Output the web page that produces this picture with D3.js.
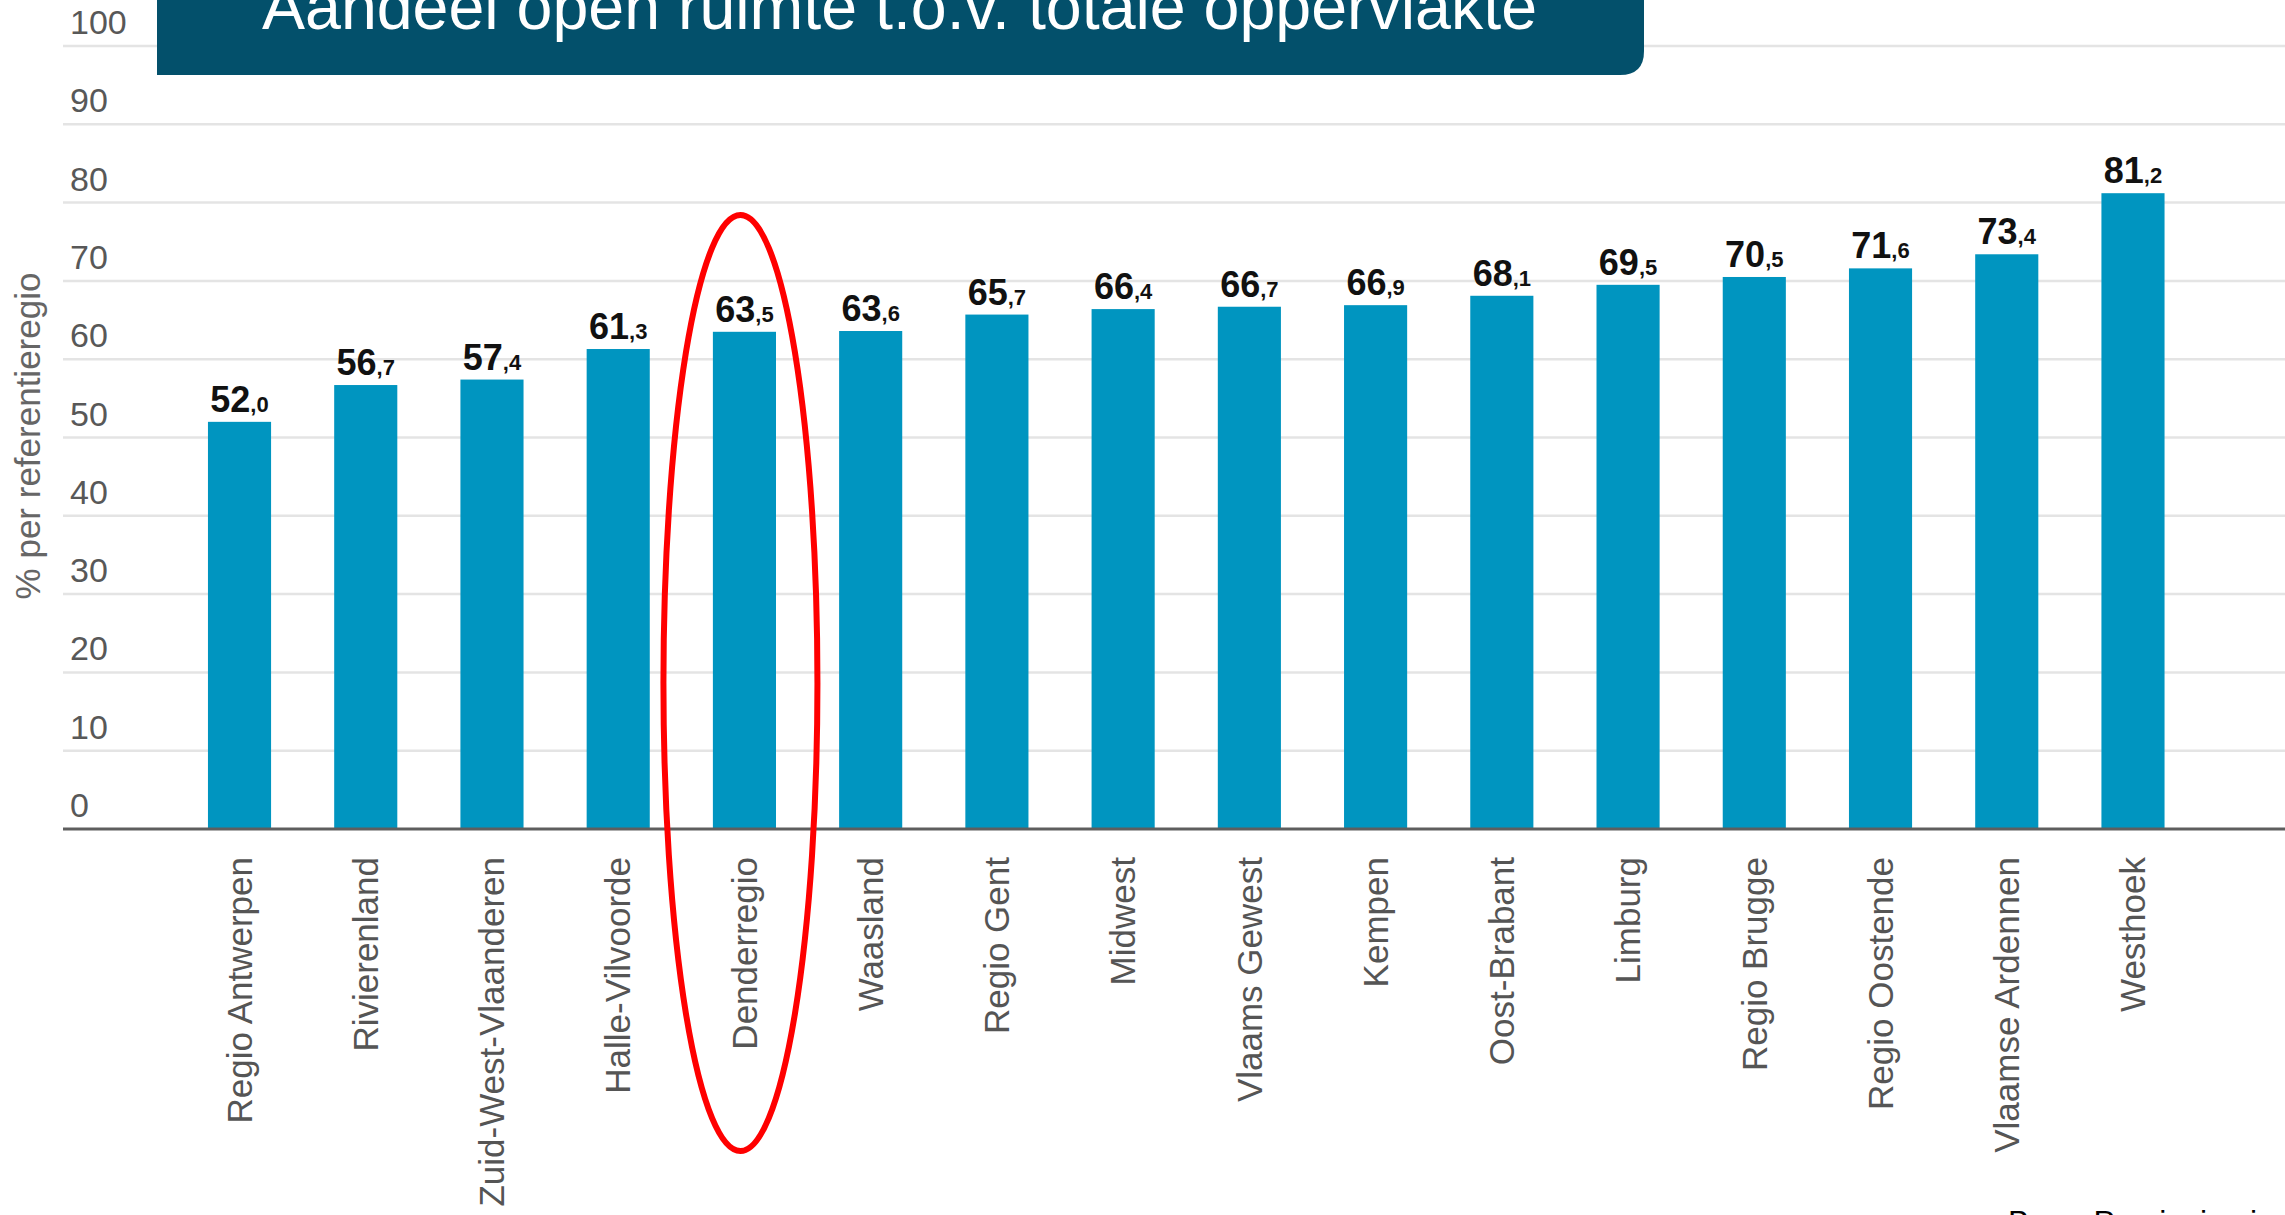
<!DOCTYPE html>
<html>
<head>
<meta charset="utf-8">
<script src="https://cdn.jsdelivr.net/npm/d3@7/dist/d3.min.js"></script>
<style>
  html, body { margin: 0; padding: 0; background: #fff; overflow: hidden; }
  svg { display: block; }
</style>
</head>
<body>
<svg id="chart" width="2285" height="1215"></svg>
<script>
// Share of open space per reference region (%)
const categories = [
  "Regio Antwerpen", "Rivierenland", "Zuid-West-Vlaanderen", "Halle-Vilvoorde",
  "Denderregio", "Waasland", "Regio Gent", "Midwest", "Vlaams Gewest", "Kempen",
  "Oost-Brabant", "Limburg", "Regio Brugge", "Regio Oostende", "Vlaamse Ardennen", "Westhoek"
];
const values = [52.0, 56.7, 57.4, 61.3, 63.5, 63.6, 65.7, 66.4, 66.7, 66.9, 68.1, 69.5, 70.5, 71.6, 73.4, 81.2];
const yTicks = [0, 10, 20, 30, 40, 50, 60, 70, 80, 90, 100];
const highlighted = "Denderregio";

const titleText = "Aandeel open ruimte t.o.v. totale oppervlakte";
const yTitle = "% per referentieregio";
const sourceText = "Bron: Provincies in Cijfers";

const W = 2285, H = 1215;
const svg = d3.select("#chart");

const x = d3.scaleBand()
  .domain(categories)
  .range([176.4, 2196.1])
  .paddingInner(0.5)
  .paddingOuter(0.25);

const y = d3.scaleLinear().domain([0, 100]).range([829, 46]);

const font = "'Liberation Sans', Arial, sans-serif";

// horizontal gridlines
svg.append("g").selectAll("line")
  .data(yTicks.filter(t => t > 0))
  .join("line")
  .attr("x1", 63).attr("x2", W)
  .attr("y1", d => y(d)).attr("y2", d => y(d))
  .attr("stroke", "#e4e4e4").attr("stroke-width", 2.5);

// tick labels sit just above their gridline
svg.append("g").selectAll("text")
  .data(yTicks)
  .join("text")
  .attr("x", 70)
  .attr("y", d => y(d) - 12)
  .attr("font-family", font)
  .attr("font-size", 34)
  .attr("fill", "#585858")
  .text(d => d);

// bars
svg.append("g").selectAll("rect")
  .data(categories)
  .join("rect")
  .attr("x", d => x(d))
  .attr("width", x.bandwidth())
  .attr("y", (d, i) => y(values[i]))
  .attr("height", (d, i) => y(0) - y(values[i]))
  .attr("fill", "#0095c0");

// baseline
svg.append("line")
  .attr("x1", 63).attr("x2", W)
  .attr("y1", y(0)).attr("y2", y(0))
  .attr("stroke", "#5e5e5e").attr("stroke-width", 3);

// value labels: large integer part, small decimal part
const vl = svg.append("g").selectAll("text")
  .data(categories)
  .join("text")
  .attr("x", d => x(d) + x.bandwidth() / 2)
  .attr("y", (d, i) => y(values[i]) - 10)
  .attr("text-anchor", "middle")
  .attr("font-family", font)
  .attr("font-weight", "bold")
  .attr("fill", "#111");
vl.append("tspan")
  .attr("font-size", 36)
  .text((d, i) => values[i].toFixed(1).split(".")[0]);
vl.append("tspan")
  .attr("font-size", 22)
  .text((d, i) => "," + values[i].toFixed(1).split(".")[1]);

// category labels, rotated
svg.append("g").selectAll("text")
  .data(categories)
  .join("text")
  .attr("transform", d => `translate(${x(d) + x.bandwidth() / 2},857) rotate(-90)`)
  .attr("text-anchor", "end")
  .attr("dy", "0.35em")
  .attr("font-family", font)
  .attr("font-size", 35)
  .attr("fill", "#555")
  .text(d => d);

// y-axis title
svg.append("text")
  .attr("transform", "translate(40,436) rotate(-90)")
  .attr("text-anchor", "middle")
  .attr("font-family", font)
  .attr("font-size", 35)
  .attr("fill", "#666")
  .text(yTitle);

// title banner with rounded bottom-right corner
const bx0 = 157, bx1 = 1644, by1 = 75, r = 24;
svg.append("path")
  .attr("d", `M${bx0},-10 L${bx1},-10 L${bx1},${by1 - r} Q${bx1},${by1} ${bx1 - r},${by1} L${bx0},${by1} Z`)
  .attr("fill", "#03506b");
svg.append("text")
  .attr("x", (262 + 1537) / 2)
  .attr("y", 29)
  .attr("text-anchor", "middle")
  .attr("font-family", font)
  .attr("font-size", 64)
  .attr("fill", "#fff")
  .attr("textLength", 1275)
  .attr("lengthAdjust", "spacingAndGlyphs")
  .text(titleText);

// source note
svg.append("text")
  .attr("x", 2008)
  .attr("y", 1233)
  .attr("font-family", font)
  .attr("font-size", 32)
  .attr("fill", "#000")
  .text(sourceText);

// red ellipse around the highlighted region
const hx = x(highlighted) + x.bandwidth() / 2;
svg.append("ellipse")
  .attr("cx", hx - 4)
  .attr("cy", 683)
  .attr("rx", 77)
  .attr("ry", 468)
  .attr("fill", "none")
  .attr("stroke", "#ff0000")
  .attr("stroke-width", 6);
</script>
</body>
</html>
